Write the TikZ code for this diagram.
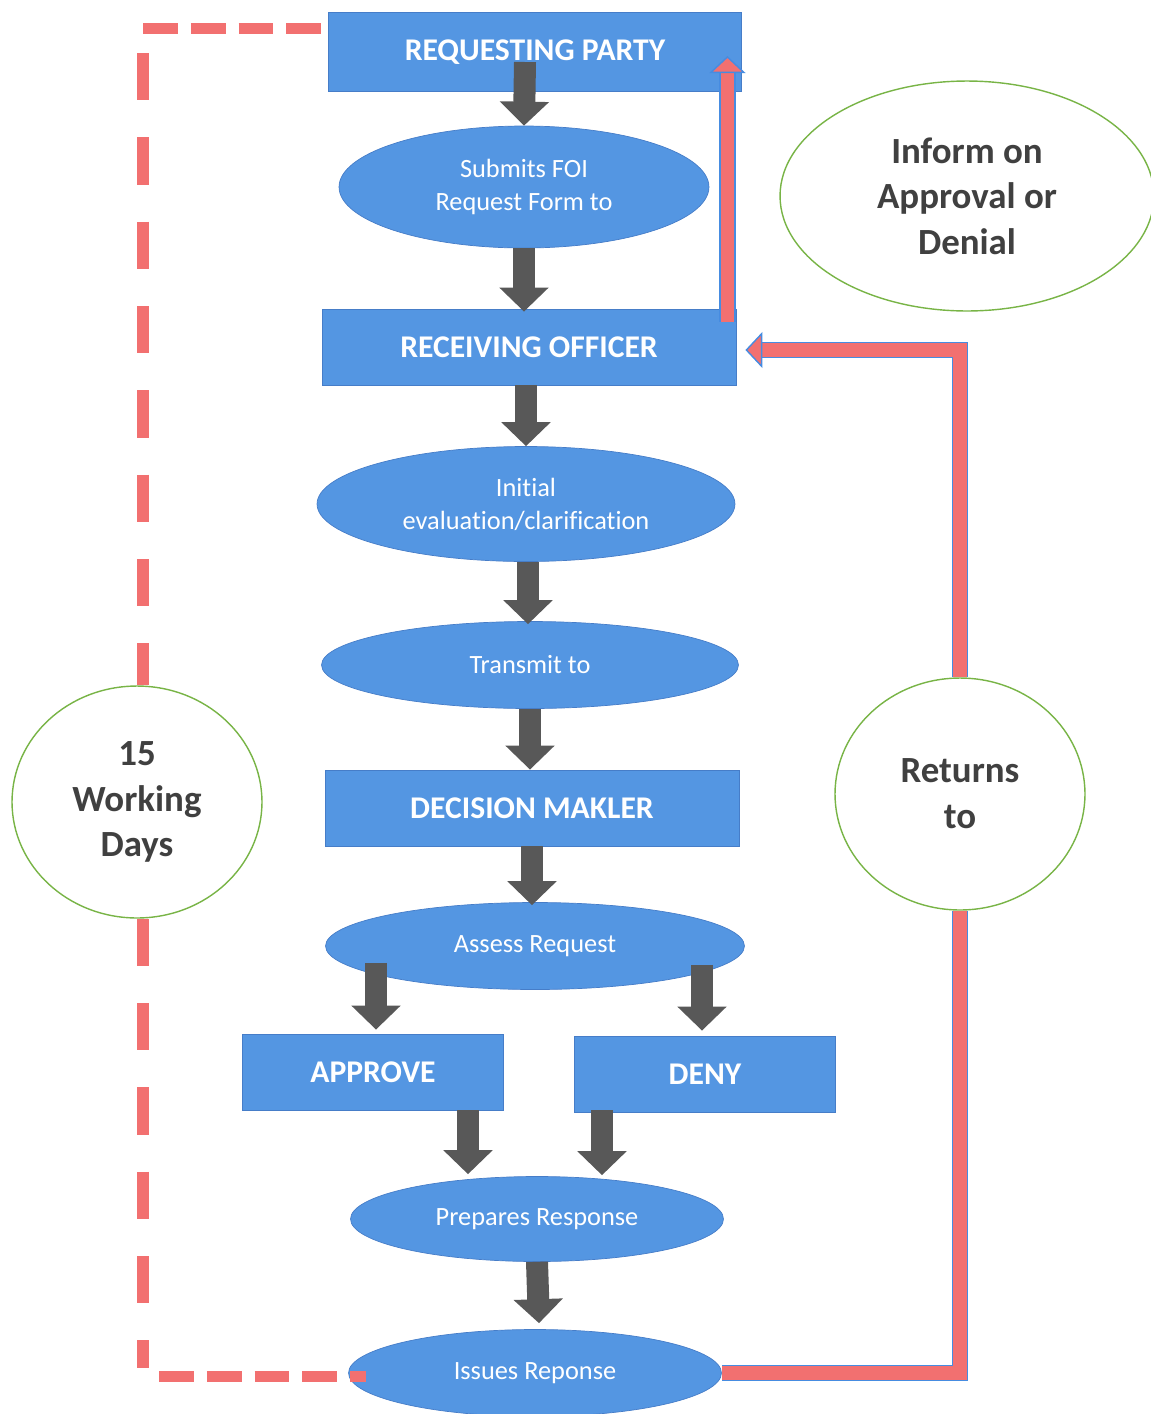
\documentclass[tikz,border=0pt]{standalone}
\usepackage{fontspec}
\setmainfont{Carlito}[Ligatures=NoCommon]
\usetikzlibrary{shapes.geometric,arrows.meta,calc}
\definecolor{boxblue}{RGB}{84,150,226}
\definecolor{boxedge}{RGB}{70,125,200}
\definecolor{arrowgray}{RGB}{88,88,88}
\definecolor{lred}{RGB}{242,112,112}
\definecolor{oblue}{RGB}{70,140,225}
\definecolor{notegreen}{RGB}{120,180,70}
\definecolor{notetext}{RGB}{64,64,64}
\begin{document}
\begin{tikzpicture}[x=0.02cm,y=-0.02cm,
  box/.style={rectangle, fill=boxblue, draw=boxedge, line width=0.5pt, text=white,
    font=\bfseries\fontsize{18}{22}\selectfont, inner sep=0pt},
  oval/.style={ellipse, fill=boxblue, draw=boxedge, line width=0.4pt, text=white,
    font=\fontsize{15}{18.7}\selectfont, inner sep=0pt, align=center},
  note/.style={ellipse, fill=white, draw=notegreen, line width=0.8pt, text=notetext,
    font=\bfseries\fontsize{21}{26}\selectfont, inner sep=0pt, align=center},
  garrow/.style={draw=arrowgray, line width=0.44cm,
    -{Triangle[width=0.96cm,length=0.48cm]}},
  redouter/.style={draw=oblue, line width=0.33cm},
  redinner/.style={draw=lred, line width=0.27cm},
  redtip/.style={-{Triangle[width=0.72cm,length=0.34cm,color=oblue,fill=lred,line width=0.8pt]}},
  dashv/.style={draw=lred, line width=0.24cm, dash pattern=on 27pt off 21pt},
  dashh/.style={draw=lred, line width=0.22cm, dash pattern=on 19.8pt off 7.4pt}]
\useasboundingbox (0,0) rectangle (1151,1414);

% notes
\node[note, minimum width=7.48cm, minimum height=4.6cm] (inform) at (967,196) {Inform on\\Approval or\\Denial};
\node[note, minimum width=5.0cm, minimum height=4.64cm] (wd) at (137,802) {15\\Working\\Days};
\node[note, minimum width=5.0cm, minimum height=4.64cm] (ret) at (960,794) {Returns\\to};

% main flow
\node[box, minimum width=8.26cm, minimum height=1.58cm] (req) at (535,52) {REQUESTING PARTY};
\node[oval, minimum width=7.4cm, minimum height=2.44cm] (sub) at (524,187) {Submits FOI\\Request Form to};
\node[box, minimum width=8.28cm, minimum height=1.52cm] (recv) at (529,347) {RECEIVING OFFICER};
\node[oval, minimum width=8.36cm, minimum height=2.3cm] (init) at (526,504) {Initial\\evaluation/clarification};
\node[oval, minimum width=8.34cm, minimum height=1.74cm] (trans) at (530,665) {Transmit to};
\node[box, minimum width=8.28cm, minimum height=1.52cm] (dec) at (532,808) {DECISION MAKLER};
\node[oval, minimum width=8.38cm, minimum height=1.74cm] (assess) at (535,946) {Assess Request};
\node[box, minimum width=5.22cm, minimum height=1.52cm] (appr) at (373,1072) {APPROVE};
\node[box, minimum width=5.22cm, minimum height=1.52cm] (deny) at (705,1074) {DENY};
\node[oval, minimum width=7.46cm, minimum height=1.7cm] (prep) at (537,1219) {Prepares Response};
\node[oval, minimum width=7.46cm, minimum height=1.74cm] (iss) at (535,1373) {Issues Reponse};

% dashed 15-working-days bracket
\coordinate (tl) at (143,28);
\coordinate (bl) at (143,1376);
\draw[dashh] (tl) -- ($(req.north west |- tl)+(-4,0)$);
\draw[dashv] ($(tl)+(0,25)$) -- (tl |- wd.north);
\draw[dashv] (tl |- wd.south) -- ($(bl)+(0,-8)$);
\draw[dashh] ($(bl)+(16,0)$) -- ($(iss.west)+(18,3)$);

% gray block arrows
\draw[garrow] ($(sub.north |- req.center)+(1,10)$) -- (sub.north);
\draw[garrow] (sub.south) -- ($(sub.south |- recv.north)+(0,3)$);
\draw[garrow] (init.north |- recv.south) -- (init.north);
\draw[garrow] ($(init.south)+(2,0)$) -- ($(init.south |- trans.north)+(2,3)$);
\draw[garrow] (trans.south) -- (trans.south |- dec.north);
\draw[garrow] (dec.south) -- ($(dec.south |- assess.north)+(0,3)$);
\draw[garrow] ($(appr.north |- assess.south)+(3,-27)$) -- ($(appr.north)+(3,-4)$);
\draw[garrow] ($(deny.north |- assess.south)+(-3,-25)$) -- ($(deny.north)+(-3,-5)$);
\draw[garrow] ($(appr.south)+(95,0)$) -- ($(prep.north)+(-69,-2)$);
\draw[garrow] ($(deny.south)+(-103,-2)$) -- ($(prep.north)+(65,-1)$);
\draw[garrow] (prep.south) -- ($(iss.north)+(4,-6)$);

% red return path
\draw[redouter] (iss.east) -| (ret.south);
\draw[redinner] (iss.east) -| (ret.south);
\coordinate (rtip) at ($(recv.east)+(9,3)$);
\draw[redouter, shorten >=0.3cm] (ret.north) |- (rtip);
\draw[redinner, redtip] (ret.north) |- (rtip);
\coordinate (u0) at ($(recv.north east)+(-9,13)$);
\coordinate (utip) at ($(u0 |- req.east)+(0,4)$);
\draw[redouter, shorten >=0.3cm] (u0) -- (utip);
\draw[redinner, redtip] (u0) -- (utip);
\end{tikzpicture}
\end{document}
